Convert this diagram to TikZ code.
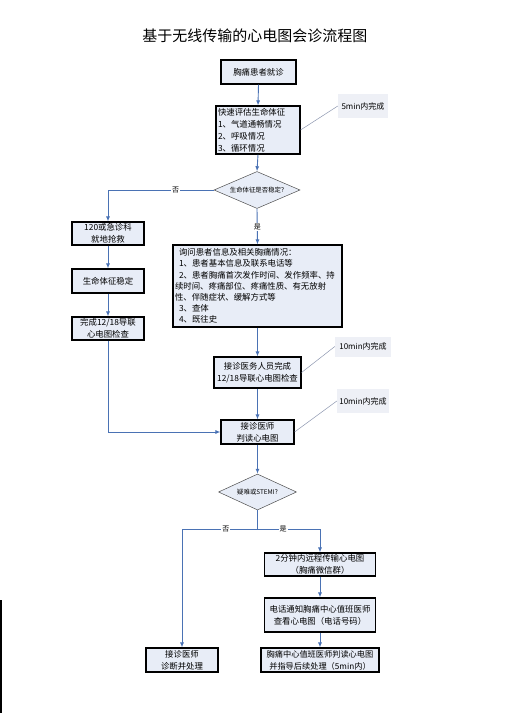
\documentclass[tikz,border=0pt]{standalone}
\usepackage{fontspec}
\setmainfont{Noto Sans CJK SC}
\usetikzlibrary{shapes.geometric,arrows.meta}
\definecolor{boxfill}{RGB}{232,237,247}
\definecolor{lblfill}{RGB}{238,240,246}
\definecolor{arr}{RGB}{74,114,180}
\definecolor{callout}{RGB}{140,150,175}
\begin{document}
\begin{tikzpicture}[x=1pt,y=-1pt,
  box/.style={draw=black, line width=1.1pt, fill=boxfill, inner sep=0pt, align=center,
    font=\fontsize{8.4}{12}\selectfont},
  dia/.style={diamond, draw=black!70, line width=0.5pt, fill=boxfill, inner sep=0pt,
    aspect=2.2, font=\fontsize{6.4}{8}\selectfont},
  lbl/.style={fill=lblfill, inner sep=0pt, font=\fontsize{8}{10}\selectfont},
  yn/.style={fill=white, inner sep=1pt, font=\fontsize{7}{8}\selectfont},
  flow/.style={draw=arr, line width=0.9pt, -{Latex[length=5pt,width=4pt]}},
  flowline/.style={draw=arr, line width=0.9pt},
  call/.style={draw=callout, line width=0.5pt}
]
\useasboundingbox (0,0) rectangle (504,713);
\draw[line width=1.5pt] (0.75,600) -- (0.75,713);

\node (title) at (254.8,36) {\fontsize{15}{15}\selectfont 基于无线传输的心电图会诊流程图};

\node[box, minimum width=75pt, minimum height=24pt] (b1) at (258.5,72) {胸痛患者就诊};
\node[box, text width=80pt, inner xsep=2pt, minimum height=48pt, align=left] (b2) at (258,130)
  {快速评估生命体征\\1、气道通畅情况\\2、呼吸情况\\3、循环情况};
\node[lbl, minimum width=50pt, minimum height=24pt] (c1) at (363,106) {5min内完成};

\node[dia, minimum width=86pt, minimum height=37pt] (d1) at (257,190) {生命体征是否稳定?};

\node[box, minimum width=72pt, minimum height=23pt] (b3) at (108,233.5) {120或急诊科\\就地抢救};
\node[box, minimum width=72pt, minimum height=24pt] (b4) at (108,281) {生命体征稳定};
\node[box, minimum width=72pt, minimum height=23pt] (b5) at (108,328.5) {完成12/18导联\\心电图检查};

\node[box, text width=165pt, inner xsep=2pt, minimum height=82pt, align=left,
  font=\fontsize{8.4}{11.2}\selectfont] (b6) at (257.5,286)
  {\hspace*{4pt}询问患者信息及相关胸痛情况：\\
   \hspace*{4pt}1、患者基本信息及联系电话等\\
   \hspace*{4pt}2、患者胸痛首次发作时间、发作频率、持\\
   续时间、疼痛部位、疼痛性质、有无放射\\
   性、伴随症状、缓解方式等\\
   \hspace*{4pt}3、查体\\
   \hspace*{4pt}4、既往史};

\node[box, minimum width=87pt, minimum height=31pt] (b7) at (257.5,372.5) {接诊医务人员完成\\12/18导联心电图检查};
\node[lbl, minimum width=56pt, minimum height=20pt] (c2) at (363,346.5) {10min内完成};

\node[box, minimum width=73pt, minimum height=24pt] (b8) at (257.5,432) {接诊医师\\判读心电图};
\node[lbl, minimum width=52pt, minimum height=24pt] (c3) at (363,401) {10min内完成};

\node[dia, minimum width=78pt, minimum height=36pt] (d2) at (257.5,492) {疑难或STEMI?};
\coordinate (split) at (257.5,529);
\coordinate (jl) at (182,529);
\coordinate (jr) at (320,529);

\node[box, minimum width=111pt, minimum height=23pt] (b9) at (320,564.5) {2分钟内远程传输心电图\\（胸痛微信群）};
\node[box, minimum width=111pt, minimum height=34pt] (b10) at (320,615) {电话通知胸痛中心值班医师\\查看心电图（电话号码）};
\node[box, minimum width=118pt, minimum height=24pt, font=\fontsize{8.2}{12}\selectfont] (b11) at (320,660) {胸痛中心值班医师判读心电图\\并指导后续处理（5min内）};
\node[box, minimum width=72pt, minimum height=24pt] (b12) at (182,660) {接诊医师\\诊断并处理};

% connectors
\draw[flow] (b1.south -| b1.center) -- (b2.north);
\draw[flow] (b2.south) -- (d1.north);
\draw[call] (b2.east) -- (c1.west);

\draw[flowline] (d1.west) -- (d1.west -| b3.north) node[yn, pos=0.36] {否};
\draw[flow] (d1.west -| b3.north) -- (b3.north);
\draw[flow] (d1.south) -- (b6.north) node[yn, midway] {是};

\draw[flow] (b3.south) -- (b4.north);
\draw[flow] (b4.south) -- (b5.north);
\draw[flowline] (b5.south) -- (b5.south |- b8.west);
\draw[flow] (b5.south |- b8.west) -- (b8.west);

\draw[flow] (b6.south) -- (b7.north);
\draw[call] (b7.east) -- (c2.west);
\draw[flow] (b7.south) -- (b8.north);
\draw[call] (b8.east) -- (c3.west);
\draw[flow] (b8.south) -- (d2.north);

\draw[flowline] (d2.south) -- (split);
\draw[flowline] (split) -- (jl) node[yn, pos=0.42] {否};
\draw[flowline] (split) -- (jr) node[yn, pos=0.41] {是};
\draw[flow] (jl) -- (b12.north);
\draw[flow] (jr) -- (b9.north);
\draw[flow] (b9.south) -- (b10.north);
\draw[flow] (b10.south) -- (b11.north);
\end{tikzpicture}
\end{document}
